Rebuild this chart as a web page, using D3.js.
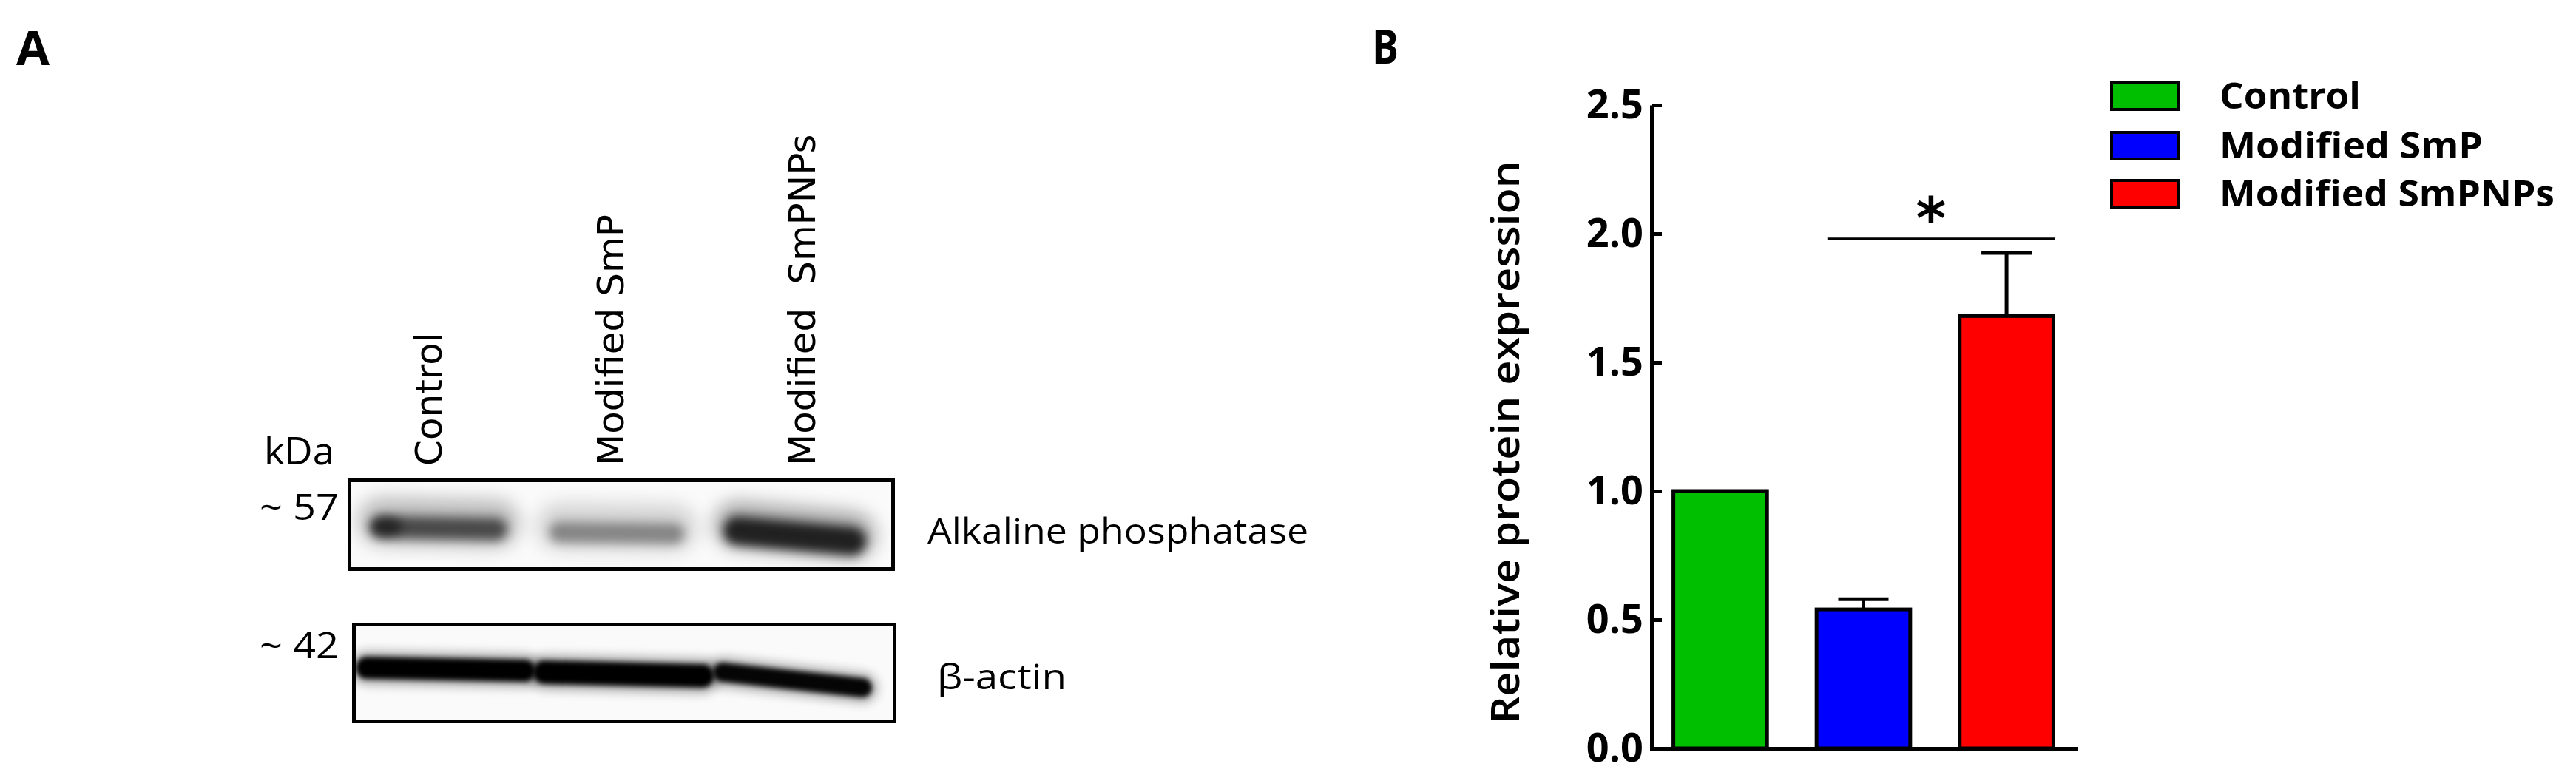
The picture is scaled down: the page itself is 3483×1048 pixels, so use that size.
<!DOCTYPE html>
<html><head><meta charset="utf-8">
<script src="https://cdn.jsdelivr.net/npm/d3@7"></script>
<style>html,body{margin:0;padding:0;background:#fff;} svg{display:block}</style>
</head><body>
<svg id="chart" width="3483" height="1048"></svg>
<script>
// ---------- data ----------
const categories = ["Control", "Modified SmP", "Modified SmPNPs"];
const means = [1.00, 0.54, 1.68];
const errors = [0.00, 0.04, 0.245];
const barColors = ["#00BE00", "#0000FF", "#FF0000"];
const yTicks = [0.0, 0.5, 1.0, 1.5, 2.0, 2.5];
const sigPair = ["Modified SmP", "Modified SmPNPs"];
const sigLevel = 1.98;
const sigLabel = "*";
const yTitle = "Relative protein expression";

const laneLabels = ["Control", "Modified SmP", "Modified  SmPNPs"];
const alpIntensity = [0.75, 0.45, 1.0];
const actinIntensity = [1.0, 1.0, 0.97];
const markerLabels = ["~ 57", "~ 42"];
const blotNames = ["Alkaline phosphatase", "β-actin"];
const unitLabel = "kDa";
const panelLabels = ["A", "B"];

// ---------- setup ----------
const svg = d3.select("#chart");
svg.append("rect").attr("width",3483).attr("height",1048).attr("fill","#fff");
const defs = svg.append("defs");
function blur(id, sd){
  defs.append("filter").attr("id",id).attr("filterUnits","userSpaceOnUse")
    .attr("x",0).attr("y",0).attr("width",3483).attr("height",1048)
    .append("feGaussianBlur").attr("stdDeviation", sd);
}
blur("b3",3.5); blur("b6",7); blur("b12",13);

// panel letters
svg.append("text").attr("x",22).attr("y",88).text(panelLabels[0])
  .attr("font-family","Open Sans").attr("font-weight",700).attr("font-size",64).attr("textLength",45).attr("lengthAdjust","spacingAndGlyphs");
svg.append("text").attr("x",1855).attr("y",86).text(panelLabels[1])
  .attr("font-family","Open Sans").attr("font-weight",700).attr("font-size",64).attr("textLength",36).attr("lengthAdjust","spacingAndGlyphs");

// ---------- Panel A : blot ----------
const lane = d3.scaleBand().domain(laneLabels).range([478,1190]).paddingInner(0.14).paddingOuter(0.05);
const bw = lane.bandwidth();
const narrow = "'Liberation Sans Narrow', 'Open Sans', sans-serif";

const box1 = {x:472.5, y:649.5, w:735, h:120};
const box2 = {x:478.5, y:844.5, w:731, h:131};
[box1, box2].forEach((b,i)=>{
  defs.append("clipPath").attr("id","clip"+i).append("rect").attr("x",b.x).attr("y",b.y).attr("width",b.w).attr("height",b.h);
  svg.append("rect").attr("x",b.x).attr("y",b.y).attr("width",b.w).attr("height",b.h).attr("fill","#fafafa");
});

// ALP bands
const gA = svg.append("g").attr("clip-path","url(#clip0)");
const alpY0 = [711, 718, 716], alpY1 = [714, 720, 730], alpW = [30, 28, 38];
laneLabels.forEach((d,i)=>{
  const x0 = lane(d)+26, x1 = lane(d)+bw-26;
  gA.append("line").attr("x1",x0).attr("x2",x1).attr("y1",alpY0[i]-6).attr("y2",alpY1[i]-6)
    .attr("stroke","#000").attr("stroke-width",62).attr("stroke-linecap","round")
    .attr("opacity",0.36*alpIntensity[i]).attr("filter","url(#b12)");
  gA.append("line").attr("x1",x0).attr("x2",x1).attr("y1",alpY0[i]+2).attr("y2",alpY1[i]+2)
    .attr("stroke","#000").attr("stroke-width",alpW[i]).attr("stroke-linecap","round")
    .attr("opacity",0.8*alpIntensity[i]).attr("filter","url(#b6)");
});
// darker spot at left of control lane
gA.append("ellipse").attr("cx",lane(laneLabels[0])+32).attr("cy",712).attr("rx",22).attr("ry",13)
  .attr("fill","#000").attr("opacity",0.5).attr("filter","url(#b6)");

// actin bands
const gB2 = svg.append("g").attr("clip-path","url(#clip1)");
const actY0 = [903, 909, 909], actY1 = [907, 914, 930], actW = [30, 32, 26];
laneLabels.forEach((d,i)=>{
  const x0 = lane(d)+6, x1 = lane(d)+bw+ (i<2?12:-12);
  gB2.append("line").attr("x1",x0).attr("x2",x1).attr("y1",actY0[i]).attr("y2",actY1[i])
    .attr("stroke","#000").attr("stroke-width",actW[i]+16).attr("stroke-linecap","round")
    .attr("opacity",0.3*actinIntensity[i]).attr("filter","url(#b6)");
  gB2.append("line").attr("x1",x0).attr("x2",x1).attr("y1",actY0[i]).attr("y2",actY1[i])
    .attr("stroke","#000").attr("stroke-width",actW[i]).attr("stroke-linecap","round")
    .attr("opacity",actinIntensity[i]).attr("filter","url(#b3)");
});

[box1, box2].forEach(b=>{
  svg.append("rect").attr("x",b.x).attr("y",b.y).attr("width",b.w).attr("height",b.h)
    .attr("fill","none").attr("stroke","#000").attr("stroke-width",5);
});

// lane labels (rotated)
const laneLabelDx = [4, 9, 27];
svg.selectAll("text.lane").data(laneLabels).join("text").attr("class","lane")
  .attr("transform",(d,i)=>`translate(${lane(d)+bw/2+laneLabelDx[i]},630) rotate(-90)`)
  .attr("font-family","'DejaVu Sans', sans-serif").attr("font-size",50)
  .style("white-space","pre")
  .text(d=>d);

// kDa + markers
svg.append("text").attr("x",357).attr("y",628).text(unitLabel)
  .attr("font-family",narrow).attr("font-size",52).attr("textLength",95).attr("lengthAdjust","spacingAndGlyphs");
const markerY = [703, 890];
markerLabels.forEach((m,i)=>{
  svg.append("text").attr("x",351).attr("y",markerY[i]).text(m)
    .attr("font-family",narrow).attr("font-size",50).attr("textLength",107).attr("lengthAdjust","spacingAndGlyphs");
});
const nameX = [1254, 1267], nameY = [735, 932], nameW = [515, 175];
blotNames.forEach((n,i)=>{
  svg.append("text").attr("x",nameX[i]).attr("y",nameY[i]).text(n)
    .attr("font-family",narrow).attr("font-size",48).attr("textLength",nameW[i]).attr("lengthAdjust","spacingAndGlyphs");
});

// ---------- Panel B : bar chart ----------
const y = d3.scaleLinear().domain([0,2.5]).range([1012,142]);
const x = d3.scaleBand().domain(categories).range([2233,2806]).paddingInner(0.32).paddingOuter(0.14);
const xb = x.bandwidth();

const gBar = svg.append("g");
gBar.selectAll("rect.bar").data(categories).join("rect").attr("class","bar")
  .attr("x",d=>x(d)+2.5).attr("width",xb-5)
  .attr("y",(d,i)=>y(means[i])).attr("height",(d,i)=>y(0)-y(means[i]))
  .attr("fill",(d,i)=>barColors[i]).attr("stroke","#000").attr("stroke-width",5);

// error bars (upper only)
categories.forEach((d,i)=>{
  if(errors[i]<=0) return;
  const cx = x(d)+xb/2;
  gBar.append("line").attr("x1",cx).attr("x2",cx).attr("y1",y(means[i])).attr("y2",y(means[i]+errors[i]))
    .attr("stroke","#000").attr("stroke-width",5);
  gBar.append("line").attr("x1",cx-34).attr("x2",cx+34).attr("y1",y(means[i]+errors[i])).attr("y2",y(means[i]+errors[i]))
    .attr("stroke","#000").attr("stroke-width",5);
});

// axes
const yAxis = d3.axisLeft(y).tickValues(yTicks).tickFormat(d3.format(".1f"))
  .tickSizeInner(-14).tickSizeOuter(0).tickPadding(11);
const gy = svg.append("g").attr("transform","translate(2233,0)").call(yAxis);
gy.attr("font-family","'Open Sans', sans-serif").attr("font-size",54).attr("font-weight",700);
gy.select(".domain").attr("stroke","#000").attr("stroke-width",5);
gy.selectAll(".tick line").attr("stroke","#000").attr("stroke-width",5);
gy.selectAll(".tick text").attr("fill","#000");

const xAxis = d3.axisBottom(x).tickSize(0).tickFormat("");
const gx = svg.append("g").attr("transform","translate(0,1012)").call(xAxis);
gx.select(".domain").attr("stroke","#000").attr("stroke-width",5).attr("stroke-linecap","square");
gx.selectAll(".tick").remove();

// y title
svg.append("text").attr("transform",`translate(2054,${(y(0)+y(2.5))/2+21}) rotate(-90)`)
  .attr("text-anchor","middle").attr("font-family","'Open Sans', sans-serif").attr("font-weight",600)
  .attr("font-size",52).attr("textLength",761).attr("lengthAdjust","spacingAndGlyphs").text(yTitle);

// significance
const sx1 = x(sigPair[0]) + 0.13*xb, sx2 = x(sigPair[1]) + xb;
svg.append("line").attr("x1",sx1).attr("x2",sx2).attr("y1",y(sigLevel)).attr("y2",y(sigLevel))
  .attr("stroke","#000").attr("stroke-width",3.5);
svg.append("text").attr("x",(sx1+sx2)/2-14).attr("y",y(sigLevel)).attr("text-anchor","middle")
  .attr("font-family","'DejaVu Sans', sans-serif").attr("font-weight",700).attr("font-size",78).text(sigLabel);

// legend
const legY = [130, 197, 262];
const legW = [191, 356, 453];
categories.forEach((c,i)=>{
  svg.append("rect").attr("x",2855).attr("y",legY[i]-18).attr("width",90).attr("height",36)
    .attr("fill",barColors[i]).attr("stroke","#000").attr("stroke-width",4);
  svg.append("text").attr("x",3001).attr("y",legY[i]+17).text(c)
    .attr("font-family","'Open Sans', sans-serif").attr("font-weight",700).attr("font-size",48)
    .attr("textLength",legW[i]).attr("lengthAdjust","spacingAndGlyphs");
});
</script>
</body></html>
